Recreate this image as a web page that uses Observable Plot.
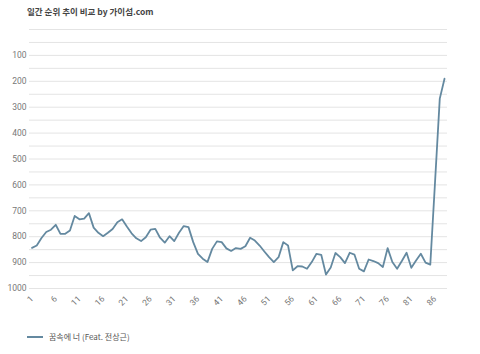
<!DOCTYPE html>
<html>
<head>
<meta charset="utf-8">
<script src="https://cdn.jsdelivr.net/npm/d3@7"></script>
<script src="https://cdn.jsdelivr.net/npm/@observablehq/plot@0.6"></script>
<style>
  html, body { margin: 0; padding: 0; background: #fff; }
  #wrap { position: relative; width: 480px; height: 354px; overflow: hidden; font-family: "Noto Sans CJK KR", Roboto, sans-serif; }
  #title { position: absolute; left: 27px; top: 5px; font-size: 8.5px; font-weight: bold; color: #444; white-space: nowrap; }
  #chart { position: absolute; left: 0; top: 22px; }
  #legend { position: absolute; left: 27px; top: 331px; font-size: 8px; color: #555; display: flex; align-items: center; white-space: nowrap; }
  #legend .sw { width: 16px; height: 2px; background: #6489a0; margin-right: 6px; }
</style>
</head>
<body>
<div id="wrap">
  <div id="title">일간 순위 추이 비교 by 가이섬.com</div>
  <div id="chart"></div>
  <div id="legend"><span class="sw"></span><span id="legendText"></span></div>
</div>
<script>
const chartTitle = "일간 순위 추이 비교 by 가이섬.com";
const seriesName = "꿈속에 너 (Feat. 전상근)";
const ranks = [
  843, 834, 805, 782, 773, 754, 789, 789, 776, 720,
  733, 730, 709, 765, 785, 798, 785, 770, 744, 733,
  761, 787, 806, 817, 802, 773, 770, 804, 823, 798,
  817, 785, 759, 763, 821, 866, 885, 898, 847, 818,
  821, 845, 855, 844, 847, 837, 804, 815, 834, 857,
  879, 898, 879, 821, 834, 930, 914, 915, 924, 898,
  866, 870, 946, 919, 863, 879, 902, 862, 869, 924,
  934, 888, 894, 902, 917, 844, 898, 924, 894, 862,
  920, 892, 866, 900, 908, 590, 267, 190
];
const days = ranks.map((_, i) => i + 1);
const xTicks = [1, 6, 11, 16, 21, 26, 31, 36, 41, 46, 51, 56, 61, 66, 71, 76, 81, 86];
const yTicks = [100, 200, 300, 400, 500, 600, 700, 800, 900, 1000];
const gridValues = [0, 50, 100, 150, 200, 250, 300, 350, 400, 450, 500, 550, 600, 650, 700, 750, 800, 850, 900, 950, 1000];

document.getElementById("title").textContent = chartTitle;
document.getElementById("legendText").textContent = seriesName;

const data = days.map((d, i) => ({day: d, rank: ranks[i]}));

const plot = Plot.plot({
  width: 480,
  height: 300,
  marginLeft: 29,
  marginRight: 33,
  marginTop: 7,
  marginBottom: 34,
  style: {fontFamily: "Roboto, sans-serif", fontSize: "8.5px", color: "#666", background: "transparent"},
  x: {domain: [0.47, 88.63], label: null},
  y: {domain: [0, 1000], reverse: true, label: null},
  marks: [
    Plot.ruleY(gridValues, {stroke: "#e4e4e4", strokeWidth: 1}),
    Plot.lineY(data, {x: "day", y: "rank", stroke: "#6489a0", strokeWidth: 1.8, strokeLinejoin: "round"}),
    Plot.axisX({ticks: xTicks, tickFormat: d => String(d), tickRotate: -45, tickSize: 0, tickPadding: 9, fill: "#777"}),
    Plot.axisY({ticks: yTicks, tickFormat: d => String(d), tickSize: 0, tickPadding: 3, fill: "#777"})
  ]
});
document.getElementById("chart").appendChild(plot);
</script>
</body>
</html>
